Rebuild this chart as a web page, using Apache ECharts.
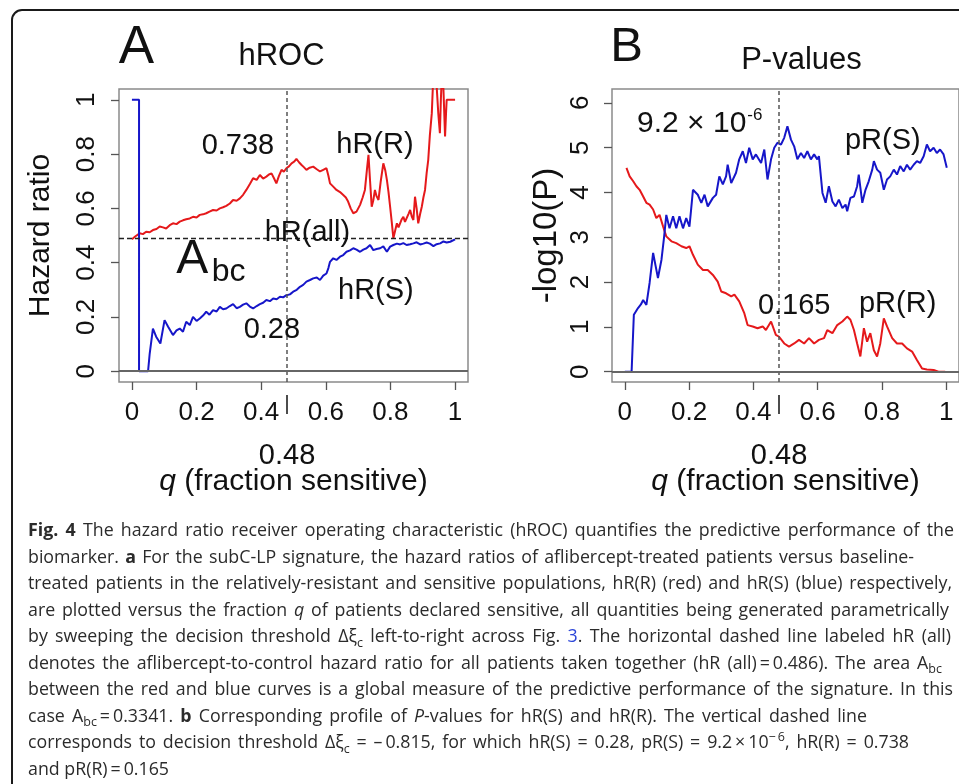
<!DOCTYPE html>
<html><head><meta charset="utf-8">
<script src="https://cdn.jsdelivr.net/npm/echarts@6/dist/echarts.min.js"></script>
<style>html,body{margin:0;padding:0;background:#fff}#c{width:959px;height:784px}</style>
</head><body><div id="c"></div>
<script>
// ---------------- data ----------------
const xTicks = [0, 0.2, 0.4, 0.6, 0.8, 1];
const hrTicks = [0, 0.2, 0.4, 0.6, 0.8, 1];
const pTicks = [0, 1, 2, 3, 4, 5, 6];
const qCut = 0.48;
const hrAll = 0.486;

// Panel A: hazard ratio in sensitive group, hR(S) (blue)
const hrS = [[0,1],[0.022,1],[0.022,0],[0.05,0],[0.055,0.065],[0.065,0.157],[0.075,0.127],[0.088,0.102],[0.101,0.188],[0.112,0.164],[0.127,0.133],[0.138,0.15],[0.148,0.157],[0.158,0.145],[0.168,0.182],[0.179,0.17],[0.189,0.2],[0.2,0.185],[0.21,0.194],[0.22,0.205],[0.23,0.219],[0.24,0.208],[0.251,0.225],[0.262,0.22],[0.272,0.237],[0.282,0.228],[0.292,0.231],[0.303,0.24],[0.313,0.247],[0.324,0.232],[0.334,0.237],[0.344,0.245],[0.354,0.25],[0.365,0.238],[0.375,0.231],[0.386,0.24],[0.396,0.247],[0.406,0.252],[0.416,0.262],[0.427,0.258],[0.437,0.268],[0.448,0.265],[0.458,0.274],[0.468,0.272],[0.478,0.28],[0.489,0.283],[0.499,0.293],[0.51,0.3],[0.52,0.311],[0.53,0.318],[0.54,0.33],[0.551,0.336],[0.561,0.342],[0.572,0.345],[0.582,0.336],[0.592,0.352],[0.602,0.36],[0.608,0.38],[0.613,0.403],[0.623,0.416],[0.633,0.41],[0.644,0.422],[0.654,0.428],[0.664,0.44],[0.675,0.445],[0.685,0.453],[0.695,0.448],[0.706,0.44],[0.716,0.448],[0.726,0.453],[0.737,0.465],[0.747,0.446],[0.757,0.45],[0.768,0.453],[0.778,0.46],[0.789,0.44],[0.799,0.459],[0.809,0.465],[0.82,0.47],[0.83,0.467],[0.84,0.472],[0.85,0.465],[0.861,0.468],[0.871,0.471],[0.881,0.475],[0.892,0.467],[0.902,0.47],[0.912,0.474],[0.922,0.47],[0.933,0.461],[0.943,0.468],[0.954,0.471],[0.964,0.478],[0.974,0.474],[0.985,0.477],[1,0.486]];

// Panel A: hazard ratio in resistant group, hR(R) (red)
const hrR = [[0,0.486],[0.012,0.498],[0.024,0.508],[0.034,0.505],[0.044,0.514],[0.055,0.512],[0.065,0.52],[0.076,0.524],[0.086,0.533],[0.096,0.53],[0.106,0.526],[0.117,0.538],[0.127,0.545],[0.138,0.542],[0.148,0.551],[0.158,0.556],[0.168,0.56],[0.179,0.563],[0.189,0.569],[0.2,0.566],[0.21,0.576],[0.22,0.578],[0.23,0.582],[0.24,0.588],[0.251,0.594],[0.262,0.592],[0.272,0.6],[0.282,0.604],[0.292,0.609],[0.303,0.618],[0.313,0.631],[0.324,0.628],[0.334,0.637],[0.344,0.65],[0.354,0.668],[0.365,0.69],[0.375,0.711],[0.386,0.705],[0.396,0.723],[0.406,0.71],[0.416,0.717],[0.424,0.725],[0.432,0.729],[0.44,0.71],[0.447,0.692],[0.455,0.72],[0.463,0.742],[0.47,0.735],[0.478,0.748],[0.486,0.755],[0.494,0.766],[0.502,0.772],[0.509,0.782],[0.517,0.77],[0.525,0.76],[0.532,0.752],[0.54,0.742],[0.55,0.75],[0.561,0.754],[0.571,0.745],[0.582,0.736],[0.592,0.742],[0.602,0.748],[0.608,0.72],[0.613,0.692],[0.623,0.68],[0.633,0.668],[0.644,0.66],[0.654,0.649],[0.662,0.64],[0.669,0.625],[0.677,0.6],[0.685,0.582],[0.695,0.588],[0.706,0.613],[0.714,0.64],[0.721,0.668],[0.727,0.74],[0.732,0.797],[0.737,0.7],[0.742,0.606],[0.747,0.63],[0.752,0.668],[0.757,0.645],[0.763,0.631],[0.77,0.7],[0.778,0.766],[0.784,0.74],[0.789,0.705],[0.794,0.66],[0.799,0.606],[0.804,0.55],[0.809,0.49],[0.815,0.52],[0.82,0.545],[0.825,0.53],[0.83,0.533],[0.835,0.56],[0.84,0.569],[0.845,0.55],[0.85,0.545],[0.856,0.58],[0.861,0.594],[0.866,0.57],[0.871,0.557],[0.876,0.643],[0.881,0.6],[0.886,0.545],[0.892,0.58],[0.897,0.606],[0.902,0.64],[0.907,0.668],[0.912,0.73],[0.917,0.779],[0.922,0.87],[0.928,0.951],[0.933,1.1],[0.938,1.12],[0.943,1.05],[0.948,0.951],[0.953,0.877],[0.956,1.0],[0.959,1.09],[0.964,1.04],[0.969,0.865],[0.972,0.95],[0.974,1.0],[1,1.0]];

// Panel B: -log10 P for the sensitive group, pR(S) (blue)
const prS = [[0,0],[0.021,0],[0.028,1.27],[0.041,1.42],[0.05,1.5],[0.057,1.6],[0.067,1.49],[0.077,1.98],[0.088,2.65],[0.096,2.35],[0.103,2.09],[0.114,2.5],[0.122,3.0],[0.129,3.5],[0.139,3.2],[0.15,3.47],[0.16,3.2],[0.17,3.47],[0.181,3.2],[0.191,3.43],[0.201,3.24],[0.206,3.6],[0.212,4.06],[0.227,3.95],[0.238,3.77],[0.248,3.95],[0.258,3.69],[0.274,3.88],[0.284,3.95],[0.294,4.36],[0.305,4.18],[0.315,4.36],[0.32,4.62],[0.331,4.21],[0.346,4.44],[0.356,4.74],[0.367,4.92],[0.377,4.66],[0.387,5.0],[0.398,4.74],[0.408,4.85],[0.424,4.66],[0.434,4.96],[0.444,4.29],[0.455,4.74],[0.465,5.0],[0.475,5.11],[0.486,5.07],[0.496,5.22],[0.506,5.48],[0.517,5.18],[0.527,5.03],[0.537,4.74],[0.548,4.88],[0.558,4.77],[0.568,4.92],[0.579,4.74],[0.589,4.85],[0.599,4.74],[0.604,4.81],[0.615,3.99],[0.625,3.77],[0.635,4.14],[0.646,3.8],[0.656,3.69],[0.666,3.84],[0.677,3.65],[0.687,3.73],[0.692,3.58],[0.702,3.88],[0.713,3.91],[0.723,4.14],[0.728,4.4],[0.739,3.77],[0.749,4.06],[0.759,4.25],[0.77,4.51],[0.775,4.7],[0.785,4.51],[0.795,4.44],[0.806,4.06],[0.816,4.29],[0.826,4.36],[0.837,4.51],[0.847,4.4],[0.857,4.59],[0.868,4.47],[0.878,4.62],[0.888,4.51],[0.899,4.62],[0.909,4.7],[0.919,4.66],[0.93,4.81],[0.94,5.07],[0.95,4.92],[0.961,5.0],[0.971,4.88],[0.981,4.96],[0.992,4.85],[1.002,4.55]];

// Panel B: -log10 P for the resistant group, pR(R) (red)
const prR = [[0.005,4.55],[0.015,4.36],[0.026,4.25],[0.036,4.14],[0.046,4.06],[0.057,3.91],[0.067,3.77],[0.077,3.73],[0.088,3.62],[0.098,3.43],[0.108,3.5],[0.119,3.24],[0.129,3.02],[0.145,2.91],[0.16,2.87],[0.176,2.8],[0.191,2.76],[0.201,2.8],[0.212,2.61],[0.227,2.39],[0.243,2.27],[0.258,2.27],[0.274,2.16],[0.289,2.01],[0.3,1.79],[0.315,1.75],[0.331,1.68],[0.341,1.72],[0.356,1.57],[0.372,1.3],[0.382,1.04],[0.398,1.01],[0.413,0.97],[0.429,1.01],[0.439,0.93],[0.455,1.12],[0.47,0.82],[0.48,0.78],[0.496,0.63],[0.511,0.56],[0.527,0.63],[0.542,0.71],[0.558,0.63],[0.573,0.75],[0.589,0.63],[0.604,0.71],[0.62,0.75],[0.63,0.93],[0.646,0.86],[0.661,1.04],[0.677,1.12],[0.692,1.23],[0.702,1.16],[0.713,0.93],[0.723,0.63],[0.733,0.34],[0.744,0.97],[0.754,0.67],[0.764,0.86],[0.775,0.48],[0.785,0.34],[0.795,0.63],[0.806,1.19],[0.816,1.01],[0.832,0.75],[0.847,0.63],[0.863,0.63],[0.878,0.52],[0.894,0.45],[0.909,0.26],[0.925,0.07],[0.94,0.05],[0.961,0.04],[0.976,0],[0.997,0]];

// ---------------- style ----------------
const FONT = "'Liberation Sans', Arial, Helvetica, sans-serif";
const RED = '#e5191b', BLUE = '#1616c9', INK = '#111';

const chart = echarts.init(document.getElementById('c'), null, {renderer: 'canvas'});

function xAxesFor(gi) {
  return [{
    type: 'value', gridIndex: gi, min: -0.04, max: 1.04, position: 'bottom',
    axisLine: {show: false, onZero: false}, splitLine: {show: false},
    axisTick: {show: true, inside: false, customValues: xTicks, length: 8, lineStyle: {color: '#555', width: 1.3}},
    axisLabel: {customValues: xTicks, margin: 18, fontSize: 26, fontFamily: FONT, color: INK},
    name: '{i|q} (fraction sensitive)', nameLocation: 'middle', nameGap: 85,
    nameTextStyle: {fontSize: 30, fontFamily: FONT, color: INK,
      rich: {i: {fontStyle: 'italic', fontSize: 30, fontFamily: FONT, color: INK}}}
  }, {
    type: 'value', gridIndex: gi, min: -0.04, max: 1.04, position: 'bottom', offset: 13,
    axisLine: {show: false, onZero: false}, splitLine: {show: false},
    axisTick: {show: true, inside: false, customValues: [qCut], length: 19, lineStyle: {color: INK, width: 1.5}},
    axisLabel: {customValues: [qCut], margin: 46, fontSize: 29, fontFamily: FONT, color: INK}
  }];
}

function refLines(withAll) {
  const d = [
    {xAxis: qCut, lineStyle: {type: [4, 3], color: '#555', width: 1.5}},
    {yAxis: 0, lineStyle: {type: 'solid', color: '#666', width: 2}}
  ];
  if (withAll) d.push({yAxis: hrAll, lineStyle: {type: [5, 3], color: '#222', width: 1.3}});
  return {silent: true, symbol: ['none', 'none'], label: {show: false}, animation: false, data: d};
}

const option = {
  animation: false,
  backgroundColor: '#fff',
  grid: [
    {left: 119, top: 89, width: 349, height: 293, show: true, borderColor: '#8a8a8a', borderWidth: 1.5},
    {left: 612, top: 89, width: 349, height: 293, show: true, borderColor: '#8a8a8a', borderWidth: 1.5}
  ],
  xAxis: [...xAxesFor(0), ...xAxesFor(1)],
  yAxis: [{
    type: 'value', gridIndex: 0, min: -0.04, max: 1.04,
    axisLine: {show: false, onZero: false}, splitLine: {show: false},
    axisTick: {show: true, inside: false, customValues: hrTicks, length: 8, lineStyle: {color: '#555', width: 1.3}},
    axisLabel: {customValues: hrTicks, rotate: 90, margin: 19, fontSize: 26, fontFamily: FONT, color: INK},
    name: 'Hazard ratio', nameLocation: 'middle', nameRotate: 90, nameGap: 63,
    nameTextStyle: {fontSize: 30, fontFamily: FONT, color: INK}
  }, {
    type: 'value', gridIndex: 1, min: -0.23, max: 6.31,
    axisLine: {show: false, onZero: false}, splitLine: {show: false},
    axisTick: {show: true, inside: false, customValues: pTicks, length: 8, lineStyle: {color: '#555', width: 1.3}},
    axisLabel: {customValues: pTicks, rotate: 90, margin: 18, fontSize: 26, fontFamily: FONT, color: INK},
    name: '-log10(P)', nameLocation: 'middle', nameRotate: 90, nameGap: 49,
    nameTextStyle: {fontSize: 33, fontFamily: FONT, color: INK}
  }],
  series: [
    {name: 'hR(R)', type: 'line', xAxisIndex: 0, yAxisIndex: 0, data: hrR, showSymbol: false, symbol: 'none',
     silent: true, lineStyle: {color: RED, width: 2}, markLine: refLines(true)},
    {name: 'hR(S)', type: 'line', xAxisIndex: 0, yAxisIndex: 0, data: hrS, showSymbol: false, symbol: 'none',
     silent: true, lineStyle: {color: BLUE, width: 2}},
    {name: 'pR(R)', type: 'line', xAxisIndex: 2, yAxisIndex: 1, data: prR, showSymbol: false, symbol: 'none',
     silent: true, lineStyle: {color: RED, width: 2}, markLine: refLines(false)},
    {name: 'pR(S)', type: 'line', xAxisIndex: 2, yAxisIndex: 1, data: prS, showSymbol: false, symbol: 'none',
     silent: true, lineStyle: {color: BLUE, width: 2}}
  ]
};
chart.setOption(option);

// ---------------- annotations, titles, caption ----------------
const graphics = [];
function txt(x, y, text, size, opts) {
  opts = opts || {};
  graphics.push({type: 'text', x: x, y: y, silent: true, z: 50,
    style: {text: text, fontSize: size, fontFamily: opts.family || FONT, fontWeight: opts.weight || 'normal',
      fontStyle: opts.style || 'normal', fill: opts.fill || INK, align: opts.align || 'center', verticalAlign: 'middle'}});
}
function dataTxt(ax, ay, q, v, text, size, align) {
  const p = chart.convertToPixel({xAxisIndex: ax, yAxisIndex: ay}, [q, v]);
  txt(p[0], p[1], text, size, {align: align});
}

// frame
graphics.push({type: 'rect', z: 1, silent: true, shape: {x: 12, y: 10, width: 1000, height: 1000, r: 10},
  style: {fill: 'none', stroke: '#1a1a1a', lineWidth: 2}});

// panel titles
txt(136.5, 48, 'A', 53);
txt(281.5, 56, 'hROC', 31);
txt(626.5, 47, 'B', 49);
txt(801.5, 60, 'P-values', 31);

// panel A labels
dataTxt(0, 0, 0.328, 0.83, '0.738', 29);
dataTxt(0, 0, 0.752, 0.834, 'hR(R)', 29);
dataTxt(0, 0, 0.543, 0.509, 'hR(all)', 29);
dataTxt(0, 0, 0.187, 0.41, 'A', 48);
dataTxt(0, 0, 0.247, 0.365, 'bc', 32, 'left');
dataTxt(0, 0, 0.755, 0.295, 'hR(S)', 29);
dataTxt(0, 0, 0.433, 0.151, '0.28', 29);
// panel B labels
dataTxt(2, 1, 0.208, 5.54, '9.2 \u00d7 10', 30);
dataTxt(2, 1, 0.381, 5.72, '-6', 17, 'left');
dataTxt(2, 1, 0.803, 5.16, 'pR(S)', 29);
dataTxt(2, 1, 0.527, 1.47, '0.165', 29);
dataTxt(2, 1, 0.849, 1.51, 'pR(R)', 29);

// caption
const CAP_FONT = "'Open Sans', 'Noto Sans', Lato, sans-serif";
const CAP_SIZE = 17.8, SUB_SIZE = 12.5;
const CAP_X = 28, CAP_Y0 = 531, CAP_LH = 26.55;
const TS = '\u2009';
const captionLines = [
  '**Fig.** **4** The hazard ratio receiver operating characteristic (hROC) quantifies the predictive performance of the',
  'biomarker. **a** For the subC-LP signature, the hazard ratios of aflibercept-treated patients versus baseline-',
  'treated patients in the relatively-resistant and sensitive populations, hR(R) (red) and hR(S) (blue) respectively,',
  'are plotted versus the fraction *q* of patients declared sensitive, all quantities being generated parametrically',
  'by sweeping the decision threshold \u0394\u03be_{c} left-to-right across Fig. [3]. The horizontal dashed line labeled hR (all)',
  'denotes the aflibercept-to-control hazard ratio for all patients taken together (hR (all)' + TS + '=' + TS + '0.486). The area A_{bc}',
  'between the red and blue curves is a global measure of the predictive performance of the signature. In this',
  'case A_{bc}' + TS + '=' + TS + '0.3341. **b** Corresponding profile of *P*-values for hR(S) and hR(R). The vertical dashed line',
  'corresponds to decision threshold \u0394\u03be_{c} = \u2013' + TS + '0.815, for which hR(S) = 0.28, pR(S) = 9.2' + TS + '\u00d7' + TS + '10^{\u2212' + TS + '6}, hR(R) = 0.738',
  'and pR(R)' + TS + '=' + TS + '0.165'
];
const capRight = [954, 914, 952, 949, 951, 942, 953, 867, 909, null];

const mctx = document.createElement('canvas').getContext('2d');
function runFont(r) {
  const size = (r.sub || r.sup) ? SUB_SIZE : CAP_SIZE;
  return {size: size, weight: r.b ? 'bold' : 'normal', style: r.i ? 'italic' : 'normal'};
}
function measure(r) {
  const f = runFont(r);
  mctx.font = f.style + ' ' + f.weight + ' ' + f.size + 'px ' + CAP_FONT;
  return mctx.measureText(r.t).width;
}
function parseWord(w) {
  const runs = [];
  const re = /\*\*(.+?)\*\*|\*(.+?)\*|_\{(.+?)\}|\^\{(.+?)\}|\[(.+?)\]|([^*_^\[]+)/g;
  let m;
  while ((m = re.exec(w))) {
    if (m[1]) runs.push({t: m[1], b: 1});
    else if (m[2]) runs.push({t: m[2], i: 1});
    else if (m[3]) runs.push({t: m[3], sub: 1});
    else if (m[4]) runs.push({t: m[4], sup: 1});
    else if (m[5]) runs.push({t: m[5], link: 1});
    else runs.push({t: m[6]});
  }
  return runs;
}
mctx.font = 'normal normal ' + CAP_SIZE + 'px ' + CAP_FONT;
const spaceW = mctx.measureText(' ').width;
captionLines.forEach(function (line, li) {
  const words = line.split(' ').map(parseWord);
  const widths = words.map(function (runs) { return runs.reduce(function (s, r) { return s + measure(r); }, 0); });
  const total = widths.reduce(function (a, b) { return a + b; }, 0);
  const gap = capRight[li] == null ? spaceW : (capRight[li] - CAP_X - total) / (words.length - 1);
  const y = CAP_Y0 + li * CAP_LH;
  let x = CAP_X;
  words.forEach(function (runs) {
    runs.forEach(function (r) {
      const f = runFont(r);
      graphics.push({type: 'text', x: x, y: y + (r.sub ? 6 : r.sup ? -6 : 0), silent: true, z: 50,
        style: {text: r.t, fontSize: f.size, fontWeight: f.weight, fontStyle: f.style, fontFamily: CAP_FONT,
          fill: r.link ? '#2b45d8' : '#2b2b2b', align: 'left', verticalAlign: 'middle'}});
      x += measure(r);
    });
    x += gap;
  });
});

chart.setOption({graphic: {elements: graphics}});
</script>
</body></html>
